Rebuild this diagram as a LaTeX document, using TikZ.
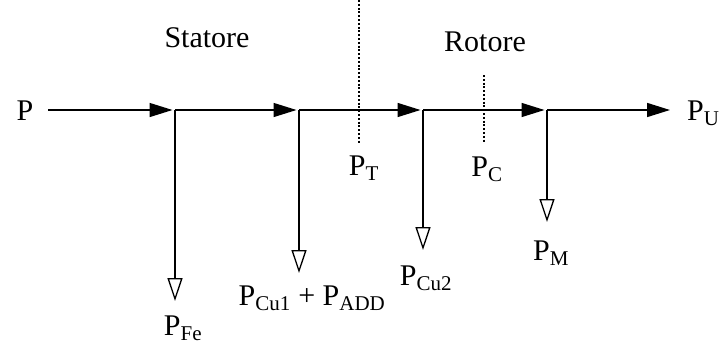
\documentclass[tikz,border=0pt]{standalone}
\usepackage{fontspec}
\setmainfont{Liberation Serif}
\usetikzlibrary{arrows.meta}
\begin{document}
\begin{tikzpicture}[x=1pt,y={(0pt,-1pt)},
  lbl/.style={inner sep=0pt,anchor=base,font=\fontsize{30}{34}\selectfont},
  flow/.style={line width=1.5pt,-{Triangle[length=23pt,width=14pt]},shorten >=2.5pt},
  loss/.style={line width=1.5pt,-{Triangle[open,length=23pt,width=15pt,line width=1.3pt]}},
  sep/.style={line width=1.1pt,dash pattern=on 2pt off 1.8pt}]
\useasboundingbox (0,0) rectangle (725,351);
\fill[white] (0,0) rectangle (725,351);
% labels
\node[lbl] (P) at (25,120) {P};
\node[lbl,anchor=base west] (PU) at (687,120) {P\textsubscript{U}};
\node[lbl] (stat) at (207,47) {Statore};
\node[lbl] (rot) at (485,51) {Rotore};
\node[lbl] (PFe) at (183,335) {P\textsubscript{Fe}};
\node[lbl] (PCu1) at (312,305) {P\textsubscript{Cu1} + P\textsubscript{ADD}};
\node[lbl] (PCu2) at (426,285) {P\textsubscript{Cu2}};
\node[lbl] (PM) at (551,260) {P\textsubscript{M}};
\node[lbl] (PT) at (364,175) {P\textsubscript{T}};
\node[lbl] (PC) at (487,176) {P\textsubscript{C}};
% junctions
\coordinate (s) at (48,110);
\coordinate (j1) at (175,110);
\coordinate (j2) at (299,110);
\coordinate (j3) at (423,110);
\coordinate (j4) at (547,110);
\coordinate (e) at (670,110);
\coordinate (b1) at (175,301);
\coordinate (b2) at (299,273);
\coordinate (b3) at (423,250);
\coordinate (b4) at (547,222);
\coordinate (d1t) at (359,0);
\coordinate (d1b) at (359,143);
\coordinate (d2t) at (484,75);
\coordinate (d2b) at (484,143);
% main flow
\draw[flow] (s) -- (j1);
\draw[flow] (j1) -- (j2);
\draw[flow] (j2) -- (j3);
\draw[flow] (j3) -- (j4);
\draw[flow,shorten >=0pt] (j4) -- (e);
% losses
\draw[loss] (j1) -- (b1);
\draw[loss] (j2) -- (b2);
\draw[loss] (j3) -- (b3);
\draw[loss] (j4) -- (b4);
% separators
\draw[sep] (d1t) -- (d1b);
\draw[sep] (d2t) -- (d2b);
\end{tikzpicture}
\end{document}
